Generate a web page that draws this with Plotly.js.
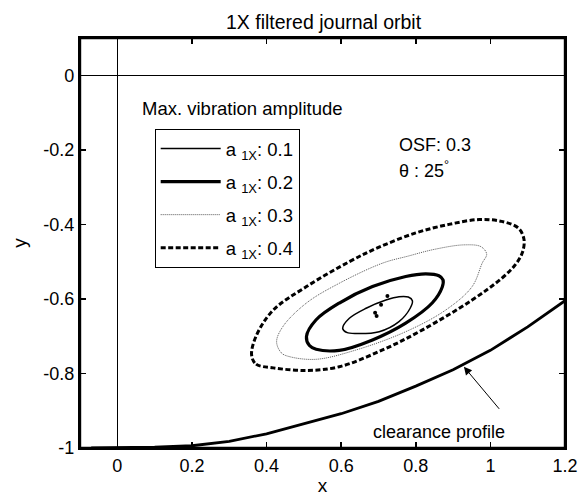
<!DOCTYPE html>
<html>
<head>
<meta charset="utf-8">
<script src="https://cdn.plot.ly/plotly-3.0.1.min.js"></script>
<style>html,body{margin:0;padding:0;background:#fff;overflow:hidden;}</style>
</head>
<body>
<div id="chart" style="width:583px;height:497px;"></div>
<script>
// ---- data ----
const clearanceX = [-0.07, 0, 0.1, 0.2, 0.3, 0.4, 0.5, 0.6, 0.7, 0.8, 0.9, 1.0, 1.1, 1.2];
const clearanceY = [-1.0, -1.0, -0.998, -0.994, -0.982, -0.962, -0.934, -0.908, -0.875, -0.834, -0.79, -0.738, -0.675, -0.605];

const orbit01X = [0.604, 0.615, 0.64, 0.702, 0.755, 0.785, 0.791, 0.78, 0.755, 0.72, 0.667, 0.622, 0.604];
const orbit01Y = [-0.679, -0.69, -0.693, -0.688, -0.661, -0.625, -0.605, -0.595, -0.594, -0.603, -0.625, -0.652, -0.679];

const orbit02X = [0.507, 0.515, 0.533, 0.595, 0.684, 0.773, 0.844, 0.871, 0.873, 0.862, 0.827, 0.773, 0.684, 0.595, 0.533, 0.507];
const orbit02Y = [-0.701, -0.725, -0.735, -0.738, -0.710, -0.665, -0.611, -0.568, -0.549, -0.538, -0.533, -0.540, -0.567, -0.611, -0.656, -0.701];

const orbit03X = [0.427, 0.44, 0.462, 0.533, 0.64, 0.773, 0.88, 0.951, 0.978, 0.99, 0.975, 0.93, 0.85, 0.78, 0.711, 0.595, 0.507, 0.444, 0.427];
const orbit03Y = [-0.715, -0.745, -0.755, -0.762, -0.737, -0.688, -0.630, -0.567, -0.504, -0.48, -0.46, -0.455, -0.467, -0.485, -0.504, -0.558, -0.611, -0.674, -0.715];

const orbit04X = [0.36, 0.372, 0.418, 0.507, 0.595, 0.711, 0.818, 0.951, 1.03, 1.067, 1.086, 1.09, 1.075, 1.03, 0.97, 0.889, 0.8, 0.7, 0.622, 0.507, 0.418, 0.372, 0.36];
const orbit04Y = [-0.751, -0.775, -0.785, -0.792, -0.782, -0.737, -0.683, -0.603, -0.545, -0.508, -0.475, -0.44, -0.41, -0.392, -0.387, -0.40, -0.423, -0.462, -0.5, -0.567, -0.63, -0.70, -0.751];

const centreDotsX = [0.724, 0.707, 0.691, 0.695];
const centreDotsY = [-0.592, -0.616, -0.637, -0.646];

const legendNames = ['a <sub>1X</sub>: 0.1', 'a <sub>1X</sub>: 0.2', 'a <sub>1X</sub>: 0.3', 'a <sub>1X</sub>: 0.4'];

const xTickVals = [0, 0.2, 0.4, 0.6, 0.8, 1, 1.2];
const xTickText = ['0', '0.2', '0.4', '0.6', '0.8', '1', '1.2'];
const yTickVals = [0, -0.2, -0.4, -0.6, -0.8, -1];
const yTickText = ['0', '-0.2', '-0.4', '-0.6', '-0.8', '-1'];

// ---- traces ----
const FONT = 'Liberation Sans, Arial, Helvetica, sans-serif';
const traces = [
  {x: orbit01X, y: orbit01Y, mode: 'lines', name: legendNames[0], legendgroup: 'g1',
   line: {color: '#000', width: 1.5, shape: 'spline', smoothing: 1}},
  {x: orbit02X, y: orbit02Y, mode: 'lines', name: legendNames[1], legendgroup: 'g2',
   line: {color: '#000', width: 3.2, shape: 'spline', smoothing: 1}},
  {x: orbit03X, y: orbit03Y, mode: 'lines', name: legendNames[2], legendgroup: 'g3',
   line: {color: '#555', width: 1, dash: '1px,1px', shape: 'spline', smoothing: 1}},
  {x: orbit04X, y: orbit04Y, mode: 'lines', name: legendNames[3], legendgroup: 'g4',
   line: {color: '#000', width: 3, dash: '5px,2.5px', shape: 'spline', smoothing: 1}},
  {x: centreDotsX, y: centreDotsY, mode: 'markers', showlegend: false,
   marker: {color: '#000', size: 4}},
  {x: clearanceX, y: clearanceY, mode: 'lines', showlegend: false,
   line: {color: '#000', width: 2.8}}
];

function axisStyle() {
  return {
    showline: true, linecolor: '#000', linewidth: 2.2, mirror: 'allticks',
    ticks: 'inside', ticklen: 6, tickwidth: 1.5, tickcolor: '#000',
    showgrid: false, zeroline: true, zerolinecolor: '#000', zerolinewidth: 1,
    tickfont: {family: FONT, size: 18, color: '#000'}
  };
}

const layout = {
  width: 583, height: 497,
  margin: {l: 80, r: 18, t: 38, b: 49},
  paper_bgcolor: '#fff', plot_bgcolor: '#fff',
  font: {family: FONT, color: '#000', size: 18},
  title: {text: '1X filtered journal orbit', font: {family: FONT, size: 19.5, color: '#000'},
          x: 0.555, xanchor: 'center', y: 0.956, yanchor: 'middle'},
  xaxis: Object.assign(axisStyle(), {
    range: [-0.1, 1.2], tickmode: 'array', tickvals: xTickVals, ticktext: xTickText,
    title: {text: 'x', font: {family: FONT, size: 19}, standoff: 4}
  }),
  yaxis: Object.assign(axisStyle(), {
    range: [-1, 0.1], tickmode: 'array', tickvals: yTickVals, ticktext: yTickText,
    title: {text: 'y', font: {family: FONT, size: 19}, standoff: 12}
  }),
  legend: {
    x: 0.154, y: 0.778, xanchor: 'left', yanchor: 'top',
    bordercolor: '#000', borderwidth: 1, bgcolor: '#fff',
    font: {family: FONT, size: 18.5, color: '#000'},
    tracegroupgap: 6, itemwidth: 60
  },
  showlegend: true,
  shapes: [
    {type: 'rect', xref: 'paper', yref: 'paper', x0: 0, x1: 1, y0: 0, y1: 1,
     line: {color: '#000', width: 2.4}, layer: 'above'}
  ],
  annotations: [
    {x: 0.062, y: -0.09, xref: 'x', yref: 'y', text: 'Max. vibration amplitude',
     showarrow: false, xanchor: 'left', yanchor: 'middle', font: {family: FONT, size: 18.5}},
    {x: 0.751, y: -0.186, xref: 'x', yref: 'y', text: 'OSF: 0.3',
     showarrow: false, xanchor: 'left', yanchor: 'middle', font: {family: FONT, size: 18}},
    {x: 0.751, y: -0.253, xref: 'x', yref: 'y', text: 'θ : 25<sup>°</sup>',
     showarrow: false, xanchor: 'left', yanchor: 'middle', font: {family: FONT, size: 18}},
    {x: 1.044, y: -0.957, xref: 'x', yref: 'y', text: 'clearance profile',
     showarrow: false, xanchor: 'right', yanchor: 'middle', font: {family: FONT, size: 18}},
    {x: 0.929, y: -0.782, xref: 'x', yref: 'y', ax: 1.027, ay: -0.899, axref: 'x', ayref: 'y',
     text: '', showarrow: true, arrowhead: 2, arrowsize: 1.6, arrowwidth: 1, arrowcolor: '#000', standoff: 0}
  ]
};

Plotly.newPlot('chart', traces, layout, {displayModeBar: false, staticPlot: true});
</script>
</body>
</html>
